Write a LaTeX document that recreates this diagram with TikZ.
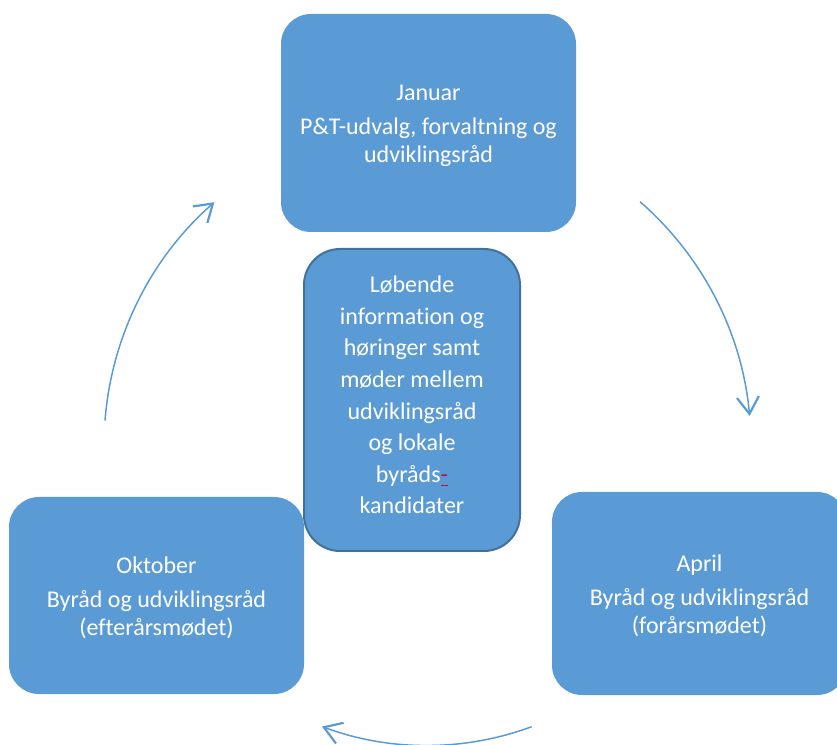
\documentclass[tikz,border=0pt]{standalone}
\usepackage{fontspec}
\setmainfont{Carlito}[Ligatures=NoCommon]
\usetikzlibrary{arrows.meta}
\definecolor{boxblue}{HTML}{5B9BD5}
\definecolor{boxedge}{HTML}{41719C}
\definecolor{spellred}{HTML}{C0103A}
\newcommand{\topstrut}{\rule{0pt}{22pt}}
\newcommand{\botstrut}{\rule[-10pt]{0pt}{10pt}}
\begin{document}
\begin{tikzpicture}[x=1pt,y=1pt,
  box/.style={rounded corners=30pt, fill=boxblue, draw=none, text=white, align=center,
    font=\fontsize{24}{28}\selectfont, inner sep=0pt},
  midbox/.style={rounded corners=36pt, fill=boxblue, draw=boxedge, line width=2pt, text=white,
    align=center, font=\fontsize{24}{31.6}\selectfont, inner sep=0pt},
  cyc/.style={draw=boxblue, line width=1.5pt,
    -{Straight Barb[length=17pt,width=22pt,line width=2.2pt]}}]
\useasboundingbox (0,0) rectangle (837,744);
\clip (0,0) rectangle (837,744);
% outer boxes
\node[box, minimum width=295pt, minimum height=197pt] (okt) at (156.5,148.5)
  {\topstrut Oktober\\[6pt]Byråd og udviklingsråd\\(efterårsmødet)};
\node[box, minimum width=295pt, minimum height=218pt] (jan) at (428.5,621)
  {\topstrut Januar\\[6pt]P\&T-udvalg, forvaltning og\\udviklingsråd};
\node[box, minimum width=295pt, minimum height=203pt] (apr) at (699.5,150.5)
  {\topstrut April\\[6pt]Byråd og udviklingsråd\\(forårsmødet)};
% cycle arrows
\coordinate (l0) at (105,323.3);
\coordinate (r0) at (640,542.3);
\coordinate (b0) at (531.7,17.3);
\draw[cyc] (l0) arc[start angle=175.6, end angle=131.2, radius=323.4];
\draw[cyc] (r0) arc[start angle=48.95, end angle=5.26, radius=323.4];
\draw[cyc] (b0) arc[start angle=-69.7, end angle=-110.4, radius=301.6];
% centre box
\node[midbox, minimum width=216pt, minimum height=302pt] (mid) at (412,344)
  {Løbende\\information og\\høringer samt\\møder mellem\\udviklingsråd\\og lokale\\byråds\textcolor{spellred}{\rlap{\rule[-4pt]{7.3pt}{1.4pt}}-}\\kandidater\botstrut};
\end{tikzpicture}
\end{document}
